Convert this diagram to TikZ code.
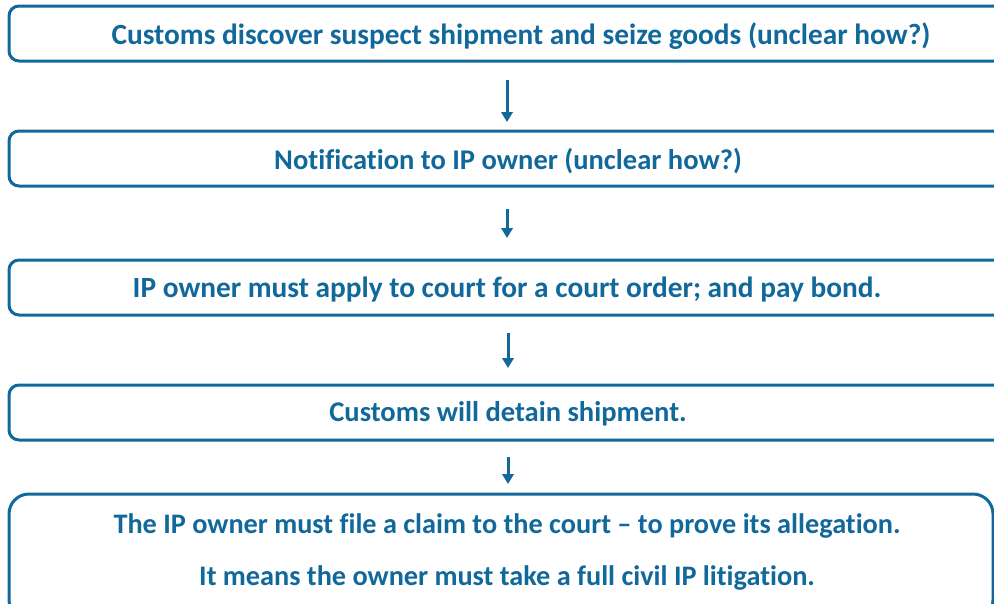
\documentclass[tikz,border=0pt]{standalone}
\usepackage{fontspec}
\setmainfont{Carlito}[Ligatures={TeX,NoCommon}]
\usetikzlibrary{arrows.meta}
\definecolor{ipblue}{RGB}{17,104,155}
\begin{document}
\begin{tikzpicture}[x=0.75pt,y=-0.75pt,
  box/.style={draw=ipblue,line width=2.25pt,rounded corners=7.5pt,fill=white,inner sep=0pt},
  txt/.style={text=ipblue,font=\fontsize{21.4}{26}\selectfont\bfseries,inner sep=0pt,anchor=center},
  big/.style={font=\fontsize{22}{26}\selectfont\bfseries},
  arr/.style={draw=ipblue,line width=2.25pt,-{Triangle[width=8.5pt,length=7.5pt]}}]
\useasboundingbox (0,0) rectangle (994,603);
\begin{scope}
\clip (0,0) rectangle (994,603);
\node[box,minimum width=1001*0.75pt,minimum height=55*0.75pt] (b1) at (509.5,33.5) {};
\node[box,minimum width=1001*0.75pt,minimum height=55*0.75pt] (b2) at (509.5,158.5) {};
\node[box,minimum width=1001*0.75pt,minimum height=55*0.75pt] (b3) at (509.5,287.5) {};
\node[box,minimum width=1001*0.75pt,minimum height=55*0.75pt] (b4) at (509.5,412.5) {};
\node[box,rounded corners=15pt,minimum width=984*0.75pt,minimum height=126*0.75pt] (b5) at (501,557) {};
\end{scope}
\node[txt,big] (t1) at (521,36) {Customs discover suspect shipment and seize goods (unclear how?)};
\node[txt] (t2) at (508,161) {Notification to IP owner (unclear how?)};
\node[txt,big] (t3) at (507,290) {IP owner must apply to court for a court order; and pay bond.};
\node[txt] (t4) at (508,414) {Customs will detain shipment.};
\node[txt,font=\fontsize{21.2}{26}\selectfont\bfseries] (t5) at (507,526) {The IP owner must file a claim to the court – to prove its allegation.};
\node[txt,font=\fontsize{21.2}{26}\selectfont\bfseries] (t6) at (507,578) {It means the owner must take a full civil IP litigation.};
\coordinate (a1s) at (507,80);  \coordinate (a1e) at (507,122);
\coordinate (a2s) at (507,209); \coordinate (a2e) at (507,238);
\coordinate (a3s) at (508,333); \coordinate (a3e) at (508,368);
\coordinate (a4s) at (508,457); \coordinate (a4e) at (508,484);
\draw[arr] (a1s) -- (a1e);
\draw[arr] (a2s) -- (a2e);
\draw[arr] (a3s) -- (a3e);
\draw[arr] (a4s) -- (a4e);
\end{tikzpicture}
\end{document}
